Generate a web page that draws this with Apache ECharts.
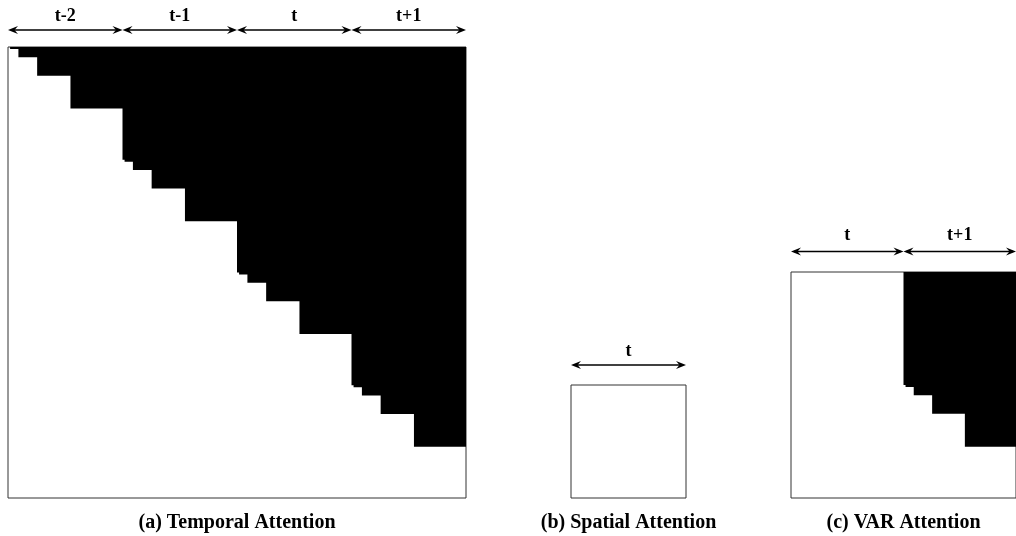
<!DOCTYPE html>
<html><head><meta charset="utf-8">
<script src="https://cdn.jsdelivr.net/npm/echarts@6/dist/echarts.min.js"></script>
<style>html,body{margin:0;padding:0;background:#fff}#c{width:1016px;height:536px}</style>
</head><body><div id="c"></div>
<script>
// patch side length of each VAR scale inside one frame
const scaleSides = [1, 2, 3, 4, 5];
// frame labels of each panel
const temporalFrames = ['t-2', 't-1', 't', 't+1'];
const spatialFrames = ['t'];
const varFrames = ['t', 't+1'];
const captions = ['(a) Temporal Attention', '(b) Spatial Attention', '(c) VAR Attention'];

const scaleTokens = scaleSides.map(s => s * s);
const frameTokens = scaleTokens.reduce((a, b) => a + b, 0);

// causal blocks (tokens per block) of each mask
const temporalBlocks = temporalFrames.flatMap(() => scaleTokens);
const spatialBlocks = [frameTokens];
const varBlocks = [frameTokens].concat(scaleTokens);

function maskRects(blocks) {
  const N = blocks.reduce((a, b) => a + b, 0);
  const out = [];
  let end = 0;
  blocks.slice(0, -1).forEach(b => { end += b; out.push([0, end, end, N]); });
  return out;
}

const panels = [
  { blocks: temporalBlocks, frames: temporalFrames, grid: { left: 8, top: 47, width: 458, height: 451 }, arrowGap: 17, labelGap: 14 },
  { blocks: spatialBlocks, frames: spatialFrames, grid: { left: 571, top: 385, width: 115, height: 113 }, arrowGap: 20, labelGap: 14 },
  { blocks: varBlocks, frames: varFrames, grid: { left: 791, top: 272, width: 230, height: 226 }, arrowGap: 20.5, labelGap: 16 }
];

function renderMask(params, api) {
  const a = api.coord([api.value(2), api.value(0)]);
  const b = api.coord([api.value(3), api.value(1)]);
  return {
    type: 'rect',
    shape: { x: a[0], y: a[1], width: b[0] - a[0], height: b[1] - a[1] },
    style: { fill: '#000' }
  };
}

const chart = echarts.init(document.getElementById('c'), null, { renderer: 'canvas' });
chart.setOption({
  animation: false,
  backgroundColor: '#fff',
  grid: panels.map(p => Object.assign({ show: true, borderColor: '#333', borderWidth: 1, backgroundColor: '#fff' }, p.grid)),
  xAxis: panels.map((p, i) => ({ type: 'value', gridIndex: i, min: 0, max: p.blocks.reduce((a, b) => a + b, 0), show: false })),
  yAxis: panels.map((p, i) => ({ type: 'value', gridIndex: i, min: 0, max: p.blocks.reduce((a, b) => a + b, 0), inverse: true, show: false })),
  series: panels.map((p, i) => ({
    type: 'custom', xAxisIndex: i, yAxisIndex: i,
    renderItem: renderMask, data: maskRects(p.blocks), silent: true
  }))
});

const FONT = '"Liberation Serif", "Times New Roman", serif';
const graphics = [];
function head(x, y, dir) {
  return {
    type: 'polygon', silent: true,
    shape: { points: [[x, y], [x - dir * 10, y - 4], [x - dir * 6.5, y], [x - dir * 10, y + 4]] },
    style: { fill: '#000' }
  };
}
panels.forEach((p, i) => {
  const N = p.blocks.reduce((a, b) => a + b, 0);
  const per = N / p.frames.length;
  const y = p.grid.top - p.arrowGap;
  p.frames.forEach((lab, k) => {
    const x0 = chart.convertToPixel({ xAxisIndex: i }, k * per);
    const x1 = chart.convertToPixel({ xAxisIndex: i }, (k + 1) * per);
    graphics.push({ type: 'line', silent: true, shape: { x1: x0 + 3, y1: y, x2: x1 - 3, y2: y }, style: { stroke: '#000', lineWidth: 1.5 } });
    graphics.push(head(x0, y, -1), head(x1, y, 1));
    graphics.push({
      type: 'text', silent: true,
      style: { text: lab, x: (x0 + x1) / 2, y: y - p.labelGap, textAlign: 'center', textVerticalAlign: 'middle', align: 'center', verticalAlign: 'middle', font: 'bold 18px ' + FONT, fill: '#000' }
    });
  });
  const cx = chart.convertToPixel({ xAxisIndex: i }, N / 2);
  graphics.push({
    type: 'text', silent: true,
    style: { text: captions[i], x: cx, y: 523, textAlign: 'center', textVerticalAlign: 'middle', align: 'center', verticalAlign: 'middle', font: 'bold 20px ' + FONT, fill: '#000' }
  });
});
chart.setOption({ graphic: graphics });
</script>
</body></html>
